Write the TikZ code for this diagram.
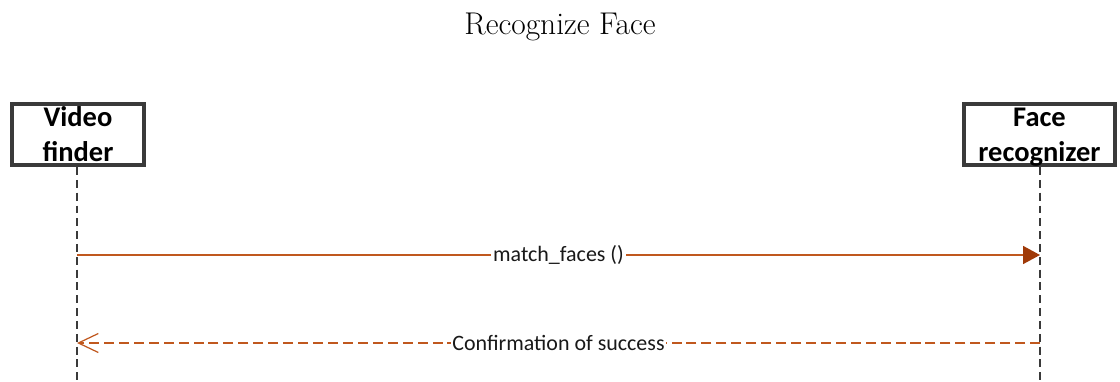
\documentclass[tikz,border=0pt]{standalone}
\usepackage{fontspec}
\usetikzlibrary{arrows.meta, positioning}
\newfontfamily\calibri{Carlito}
\definecolor{boxgray}{RGB}{58,58,58}
\definecolor{msgline}{RGB}{192,88,30}
\definecolor{msghead}{RGB}{160,58,8}

\begin{document}
\begin{tikzpicture}[
    actor/.style={draw=boxgray, line width=2.3pt, minimum width=#1, minimum height=1.22cm, inner sep=0pt},
    actorname/.style={font=\calibri\bfseries\fontsize{16.2}{20.4}\selectfont, align=center, inner sep=0pt, anchor=base},
    lifeline/.style={boxgray, line width=0.7pt, dash pattern=on 4.5pt off 2.8pt},
    call/.style={msgline, line width=0.85pt, -{Triangle[length=9.6pt, width=10.2pt, color=msghead]}},
    reply/.style={msgline, line width=0.85pt, dash pattern=on 5.7pt off 2.8pt, -{Straight Barb[length=11.3pt, width=10.8pt, line width=0.7pt]}},
    msglabel/.style={font=\calibri\fontsize{12.5}{15}\selectfont, text=black!90, fill=white, inner sep=1pt}
  ]
    \useasboundingbox (0,0) rectangle (22.4,7.62);

    % title
    \node[anchor=base, font=\fontsize{17.9}{21}\selectfont] (title) at (11.2,6.92) {Recognize Face};

    % the two participants (names sit low in the boxes)
    \node[actor=2.64cm] (vf) at (1.56,4.93) {};
    \node[actor=3.02cm] (fr) at (20.79,4.93) {};
    \node[actorname] (vfname) at (1.56,4.38) {Video\\finder};
    \node[actorname] (frname) at (20.79,4.38) {Face\\recognizer};

    % lifelines down to the bottom edge
    \coordinate (vfend) at (1.54,0);
    \coordinate (frend) at (20.8,0);
    \draw[lifeline] (vf.south -| vfend) -- (vfend);
    \draw[lifeline] (fr.south -| frend) -- (frend);

    % messages
    \coordinate (vfcall) at (1.54,2.52);
    \coordinate (frcall) at (20.8,2.52);
    \coordinate (vfreply) at (1.54,0.76);
    \coordinate (frreply) at (20.8,0.76);
    \draw[call] (vfcall) -- node[msglabel] (callname) {match\_faces ()} (frcall);
    \draw[reply] (frreply) -- node[msglabel] (replyname) {Confirmation of success} (vfreply);
\end{tikzpicture}
\end{document}
